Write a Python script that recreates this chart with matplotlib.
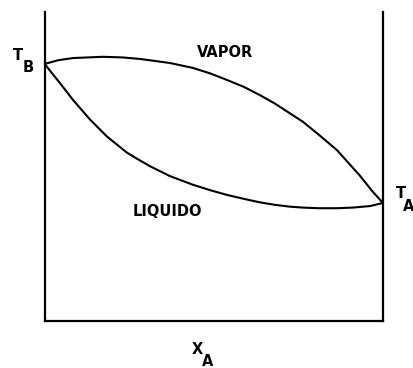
import numpy as np
import matplotlib
matplotlib.use("Agg")
import matplotlib.pyplot as plt

# composicion x_A (0..1) y temperatura relativa
x_vapor = [0.0, 0.04, 0.084, 0.172, 0.23, 0.282, 0.370, 0.438, 0.49, 0.539, 0.59,
           0.636, 0.68, 0.725, 0.763, 0.81, 0.864, 0.932, 0.97, 1.0]
t_vapor = [0.832, 0.844, 0.851, 0.855, 0.853, 0.848, 0.835, 0.819, 0.801, 0.780, 0.757,
           0.731, 0.704, 0.672, 0.645, 0.603, 0.553, 0.470, 0.418, 0.382]

x_liq = [0.0, 0.02, 0.045, 0.084, 0.134, 0.184, 0.243, 0.27, 0.311, 0.370, 0.438, 0.49,
         0.539, 0.59, 0.636, 0.68, 0.725, 0.763, 0.81, 0.864, 0.91, 0.962, 1.0]
t_liq = [0.832, 0.804, 0.770, 0.715, 0.652, 0.597, 0.545, 0.527, 0.501, 0.469, 0.441, 0.423,
         0.408, 0.395, 0.384, 0.376, 0.370, 0.367, 0.365, 0.365, 0.367, 0.372, 0.382]

W, H = 414, 368
fig = plt.figure(figsize=(W / 100, H / 100), dpi=100)
ax = fig.add_axes([44.7 / W, (H - 321) / H, (383 - 44.7) / W, (321 - 12) / H])

ax.plot(x_vapor, t_vapor, color="black", lw=1.5, solid_joinstyle="round")
ax.plot(x_liq, t_liq, color="black", lw=1.5, solid_joinstyle="round")

ax.set_xlim(0, 1)
ax.set_ylim(0, 1)
ax.spines["top"].set_visible(False)
for s in ["left", "right", "bottom"]:
    ax.spines[s].set_linewidth(1.6)
ax.set_xticks([])
ax.set_yticks([])

fs = 10.5
font = dict(fontweight="bold", fontsize=fs, color="black")
# etiquetas en pixeles de la figura
def txt(px, py, s, **kw):
    fig.text(px / W, 1 - py / H, s, ha="center", va="center", **font, **kw)

txt(17.5, 55, "T")
txt(28, 68, "B")
txt(401, 193, "T")
txt(409, 206, "A")
txt(225, 52.5, "VAPOR")
txt(167, 211.5, "LIQUIDO")
txt(197, 349.5, "X")
txt(207.5, 362, "A")

fig.savefig("out.png", dpi=100)
